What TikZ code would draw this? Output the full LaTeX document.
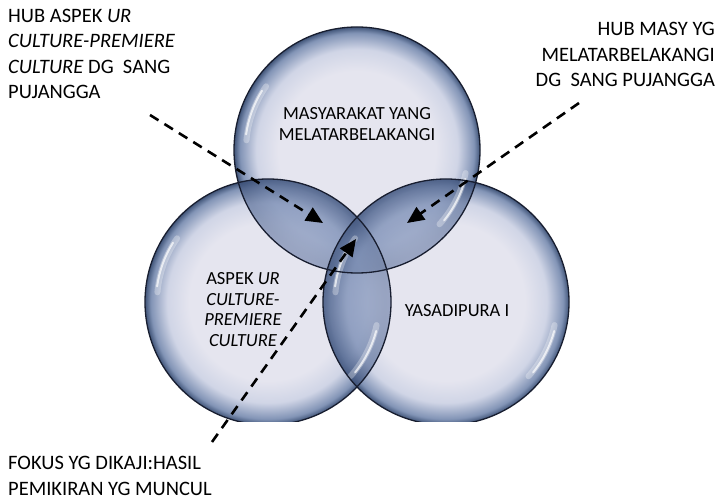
\documentclass[tikz,border=0pt]{standalone}
\usepackage{fontspec}
\setmainfont{Carlito}
\usetikzlibrary{arrows.meta}

% bubble palette
\definecolor{bubin}{RGB}{229,229,239}
\definecolor{bubmid}{RGB}{208,213,230}
\definecolor{bubedge}{RGB}{130,148,182}
\definecolor{bubrim}{RGB}{64,84,120}
\definecolor{bubline}{RGB}{24,30,48}
\definecolor{lensin}{RGB}{158,172,206}
\definecolor{lensmid}{RGB}{118,138,178}
\definecolor{lensout}{RGB}{62,82,122}

% glossy bubble: flat light centre, blue-grey towards the rim
\pgfdeclareradialshading{bubble}{\pgfpoint{0bp}{0bp}}{%
  color(0bp)=(bubin); color(16bp)=(bubin); color(20.5bp)=(bubmid);
  color(23.8bp)=(bubedge); color(25bp)=(bubrim); color(50bp)=(bubrim)}
% darker tone laid over the overlapping parts
\pgfdeclareradialshading{lens}{\pgfpoint{0bp}{0bp}}{%
  color(0bp)=(lensin); color(12bp)=(lensin); color(20bp)=(lensmid);
  color(24bp)=(lensout); color(25bp)=(lensout); color(50bp)=(lensout)}

\begin{document}
\begin{tikzpicture}[x=1pt,y=1pt,
  ring/.style={draw=bubline, line width=1.3pt},
  glint/.style={white, line cap=round},
  arr/.style={line width=2.6pt, dash pattern=on 10pt off 7pt,
              -{Triangle[length=17pt,width=15pt]}},
  lbl/.style={inner sep=0pt, font=\fontsize{20.5}{25.5}\selectfont},
  ctext/.style={inner sep=0pt, align=center, font=\fontsize{18.5}{20.5}\selectfont}]
\useasboundingbox (0,0) rectangle (722,501);

% circle centres
\coordinate (cT) at (357,351);
\coordinate (cL) at (268,199);
\coordinate (cR) at (446,199);
\def\rr{123}

\begin{scope}
  \clip (0,80) rectangle (722,501);
  % the three bubbles
  \foreach \c in {cT,cL,cR}
    \shade[shading=bubble] (\c) circle (\rr);
  % overlaps get darker
  \foreach \c/\a/\b in {cT/cL/cR, cL/cT/cR, cR/cT/cL}{
    \begin{scope}
      \clip (\c) circle (\rr);
      \clip (\a) circle (\rr) (\b) circle (\rr);
      \shade[shading=lens, fill opacity=0.48] (\c) circle (\rr);
    \end{scope}}
  % reflections
  \foreach \c in {cT,cL,cR}{
    \draw[glint, line width=6pt, opacity=0.3] ([shift={(145:111)}]\c) arc (145:175:111);
    \draw[glint, line width=2pt, opacity=0.7] ([shift={(148:112)}]\c) arc (148:172:112);
    \draw[glint, line width=6pt, opacity=0.3] ([shift={(-12:111)}]\c) arc (-12:-42:111);
    \draw[glint, line width=2pt, opacity=0.7] ([shift={(-15:112)}]\c) arc (-15:-39:112);
  }
  % outlines
  \foreach \c in {cT,cL,cR}
    \draw[ring] (\c) circle (\rr);
\end{scope}

% texts inside the bubbles
\node[ctext, anchor=north] (tT) at (357,393.5) {MASYARAKAT YANG\\MELATARBELAKANGI};
\node[ctext, anchor=north] (tL) at (243,228.5)
  {ASPEK \textit{UR}\\\textit{CULTURE-}\\\textit{PREMIERE}\\\textit{CULTURE}};
\node[ctext, anchor=base] (tR) at (457,185) {YASADIPURA I};

% outer labels
\node[lbl, anchor=north west, align=left] (lTL) at (8,492.5)
  {HUB ASPEK \textit{UR}\\\textit{CULTURE-PREMIERE}\\\textit{CULTURE} DG~~SANG\\PUJANGGA};
\node[lbl, anchor=north east, align=right] (lTR) at (715,478.5)
  {HUB MASY YG\\MELATARBELAKANGI\\DG~~SANG PUJANGGA};
\node[lbl, anchor=north west, align=left] (lB) at (8,45)
  {FOKUS YG DIKAJI:HASIL\\PEMIKIRAN YG MUNCUL};

% arrow ends
\coordinate (s1) at (150,386);
\coordinate (e1) at (323,278);
\coordinate (s2) at (579,398);
\coordinate (e2) at (407,278);
\coordinate (s3) at (212,59);
\coordinate (e3) at (356,262);
\draw[arr] (s1) -- (e1);
\draw[arr] (s2) -- (e2);
\draw[arr] (s3) -- (e3);
\end{tikzpicture}
\end{document}
